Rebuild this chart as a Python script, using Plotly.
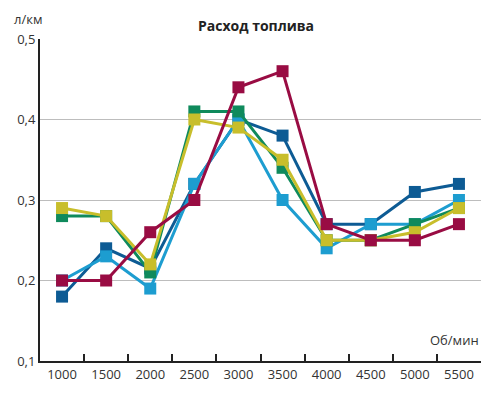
import plotly.graph_objects as go

categories = ["1000", "1500", "2000", "2500", "3000", "3500", "4000", "4500", "5000", "5500"]
dark_blue = [0.18, 0.24, 0.215, 0.32, 0.40, 0.38, 0.27, 0.27, 0.31, 0.32]
light_blue = [0.20, 0.23, 0.19, 0.32, 0.40, 0.30, 0.24, 0.27, 0.27, 0.30]
green = [0.28, 0.28, 0.21, 0.41, 0.41, 0.34, 0.25, 0.25, 0.27, 0.29]
yellow = [0.29, 0.28, 0.22, 0.40, 0.39, 0.35, 0.25, 0.25, 0.26, 0.29]
crimson = [0.20, 0.20, 0.26, 0.30, 0.44, 0.46, 0.27, 0.25, 0.25, 0.27]
y_ticks = [0.1, 0.2, 0.3, 0.4, 0.5]
y_tick_labels = ["0,1", "0,2", "0,3", "0,4", "0,5"]

series = [
    (dark_blue, "#0d5b94"),
    (light_blue, "#1d9dd0"),
    (green, "#0f8a5c"),
    (yellow, "#c8be2b"),
    (crimson, "#990c43"),
]

fig = go.Figure()
for vals, col in series:
    fig.add_trace(go.Scatter(
        x=categories, y=vals, mode="lines+markers",
        line=dict(color=col, width=3),
        marker=dict(symbol="square", size=12, color=col),
        showlegend=False,
    ))

L, R, T, B = 40, 19, 39, 36
W, H = 500, 397
pw = W - L - R
ph = H - T - B


def px(x):
    return (x - L) / pw


def py(y):
    return (H - B - y) / ph


font_family = "Open Sans, Noto Sans, sans-serif"
fig.update_layout(
    width=W, height=H,
    margin=dict(l=L, r=R, t=T, b=B),
    paper_bgcolor="white", plot_bgcolor="white",
    font=dict(family=font_family, size=13, color="#333333"),
    xaxis=dict(
        type="category", range=[-0.5, 9.5],
        tickson="boundaries", ticks="inside", ticklen=7, tickwidth=2, tickcolor="#222222",
        showline=True, linecolor="#222222", linewidth=2,
        showgrid=False, zeroline=False, fixedrange=True,
    ),
    yaxis=dict(
        range=[0.1, 0.5], tickvals=y_ticks, ticktext=y_tick_labels,
        showline=True, linecolor="#222222", linewidth=2,
        showgrid=True, gridcolor="#bdbdbd", gridwidth=1,
        ticks="", zeroline=False, fixedrange=True,
    ),
    annotations=[
        dict(text="<b>Расход топлива</b>", x=px(256), y=py(25), xref="paper", yref="paper",
             xanchor="center", yanchor="middle",
             showarrow=False, font=dict(size=14, color="#222222")),
        dict(text="л/км", x=px(28), y=py(19), xref="paper", yref="paper",
             xanchor="center", yanchor="middle",
             showarrow=False, font=dict(size=13)),
        dict(text="Об/мин", x=px(481), y=py(340), xref="paper", yref="paper",
             xanchor="right", yanchor="middle", showarrow=False, font=dict(size=13)),
    ],
)

fig.write_html(
    "out.html",
    config={"displayModeBar": False},
    post_script="document.body.style.margin='0';document.body.style.padding='0';",
)
